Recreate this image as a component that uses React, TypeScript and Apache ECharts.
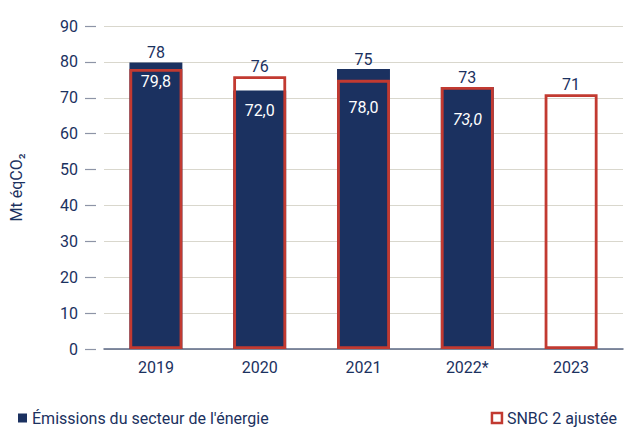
import React, { useEffect, useRef } from "react";
import * as echarts from "echarts";

const categories = ["2019", "2020", "2021", "2022*", "2023"];
const emissions: (number | null)[] = [79.8, 72.0, 78.0, 73.0, null];
const snbc = [78, 76, 75, 73, 71];
const yTicks = [0, 10, 20, 30, 40, 50, 60, 70, 80, 90];

const NAVY = "#1b3160";
const RED = "#c23a31";
const FONT = "Roboto";

export default function App() {
  const ref = useRef<HTMLDivElement>(null);
  useEffect(() => {
    if (!ref.current) return;
    const chart = echarts.init(ref.current, null, { renderer: "svg" });
    const fmt = (v: number) => v.toFixed(1).replace(".", ",");
    const extraOffset = [0, 1, 19, 13, 0];
    chart.setOption({
      animation: false,
      textStyle: { fontFamily: FONT, color: NAVY },
      grid: { left: 104, right: 2, top: 26, bottom: 81 },
      legend: [
        {
          left: 13,
          top: 405,
          itemWidth: 9,
          itemHeight: 9,
          itemGap: 8,
          textStyle: { fontSize: 16, color: NAVY, fontFamily: FONT },
          data: [{ name: "Émissions du secteur de l'énergie", icon: "rect" }],
        },
        {
          right: 3,
          top: 405,
          itemWidth: 10,
          itemHeight: 10,
          textStyle: { fontSize: 16, color: NAVY, fontFamily: FONT },
          data: [
            {
              name: "SNBC 2 ajustée",
              icon: "rect",
              itemStyle: { color: "#fff", borderColor: RED, borderWidth: 2.5 },
            },
          ],
        },
      ],
      xAxis: {
        type: "category",
        data: categories,
        axisLine: { lineStyle: { color: "#5b6885", width: 1.5 } },
        axisTick: { show: false },
        axisLabel: { fontSize: 16, color: NAVY, fontFamily: FONT, margin: 10 },
      },
      yAxis: {
        type: "value",
        min: yTicks[0],
        max: yTicks[yTicks.length - 1],
        interval: 10,
        offset: 8,
        name: "Mt éqCO₂",
        nameLocation: "middle",
        nameGap: 72,
        nameTextStyle: { fontSize: 16, color: NAVY, fontFamily: FONT },
        axisLine: { show: false },
        axisTick: { show: true, length: 11, lineStyle: { color: "#8d94a6", width: 1.2 } },
        axisLabel: { fontSize: 16, color: NAVY, fontFamily: FONT, margin: 18 },
        splitLine: { lineStyle: { color: "#d9d7cd", width: 1.2 } },
      },
      series: [
        {
          name: "Émissions du secteur de l'énergie",
          type: "bar",
          barWidth: "51%",
          itemStyle: { color: NAVY },
          data: emissions.map((v, i) =>
            v == null
              ? null
              : {
                  value: v,
                  label: {
                    offset: [0, extraOffset[i]],
                    fontStyle: categories[i].endsWith("*") ? "italic" : "normal",
                  },
                }
          ),
          label: {
            show: true,
            position: "insideTop",
            distance: 11,
            color: "#fff",
            fontSize: 16,
            fontFamily: FONT,
            formatter: (p: any) => fmt(p.value),
          },
          z: 2,
        },
        {
          name: "SNBC 2 ajustée",
          type: "bar",
          barWidth: "51%",
          barGap: "-100%",
          itemStyle: { color: "rgba(0,0,0,0)", borderColor: RED, borderWidth: 2.8 },
          data: snbc,
          z: 3,
        },
        {
          name: "labels",
          type: "bar",
          barWidth: "51%",
          barGap: "-100%",
          itemStyle: { color: "rgba(0,0,0,0)" },
          silent: true,
          data: snbc.map((v, i) => Math.max(v, emissions[i] ?? 0)),
          label: {
            show: true,
            position: "top",
            distance: 2,
            color: NAVY,
            fontSize: 16,
            fontFamily: FONT,
            formatter: (p: any) => String(snbc[p.dataIndex]),
          },
          z: 4,
        },
      ],
    });
    return () => chart.dispose();
  }, []);
  return <div ref={ref} style={{ width: 625, height: 430, position: "absolute", left: 0, top: 0 }} />;
}
